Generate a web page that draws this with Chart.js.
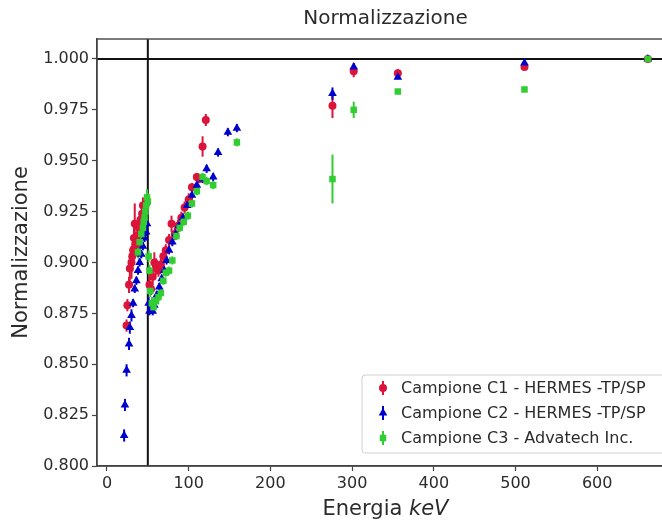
<!DOCTYPE html>
<html>
<head>
<meta charset="utf-8">
<script src="https://cdn.jsdelivr.net/npm/chart.js@4.4.1/dist/chart.umd.min.js"></script>
<style>
  html, body { margin: 0; padding: 0; background: #fff; overflow: hidden; }
  #wrap { width: 662px; height: 524px; overflow: hidden; }
</style>
</head>
<body>
<div id="wrap"><canvas id="chart" width="700" height="524"></canvas></div>
<script>
// Campione C1 - HERMES (red circles)
const c1Energy = [24, 25, 27, 28, 30, 31, 32, 33, 34, 36, 37, 39, 41, 43, 44, 46, 48,
  52, 54, 56, 58, 60, 63, 66, 69, 72, 76, 79, 83, 87, 91, 95, 100, 104, 110, 113, 117, 121,
  276, 302, 356, 511, 662];
const c1Norm = [0.869, 0.879, 0.889, 0.897, 0.900, 0.903, 0.906, 0.912, 0.919, 0.909, 0.913, 0.917, 0.921, 0.924, 0.928, 0.925, 0.929,
  0.889, 0.887, 0.893, 0.900, 0.898, 0.896, 0.899, 0.903, 0.906, 0.911, 0.919, 0.914, 0.918, 0.922, 0.927, 0.931, 0.937, 0.942, 0.941, 0.957, 0.970,
  0.977, 0.994, 0.993, 0.996, 1.000];
const c1Err = [0.003, 0.003, 0.004, 0.006, 0.008, 0.007, 0.006, 0.008, 0.010, 0.006, 0.005, 0.005, 0.004, 0.005, 0.004, 0.004, 0.004,
  0.004, 0.003, 0.004, 0.005, 0.004, 0.003, 0.003, 0.003, 0.003, 0.003, 0.004, 0.003, 0.003, 0.003, 0.003, 0.003, 0.002, 0.002, 0.002, 0.005, 0.003,
  0.006, 0.003, 0.002, 0.001, 0.001];

// Campione C2 - HERMES (blue triangles)
const c2Energy = [21, 22, 24, 27, 28, 30, 32, 34, 36, 38, 40, 42, 44, 46, 48, 49,
  51, 52, 54, 56, 58, 61, 64, 67, 70, 73, 76, 80, 84, 88, 93, 98, 104, 110, 117, 122, 130, 136, 148, 159,
  276, 302, 356, 511, 662];
const c2Norm = [0.815, 0.830, 0.847, 0.860, 0.868, 0.874, 0.880, 0.887, 0.891, 0.896, 0.900, 0.904, 0.908, 0.912, 0.915, 0.919,
  0.880, 0.876, 0.877, 0.876, 0.879, 0.884, 0.888, 0.892, 0.896, 0.901, 0.906, 0.910, 0.914, 0.918, 0.922, 0.928, 0.933, 0.938, 0.941, 0.946, 0.942, 0.954, 0.964, 0.966,
  0.983, 0.996, 0.991, 0.998, 1.000];
const c2Err = [0.003, 0.003, 0.003, 0.003, 0.003, 0.003, 0.002, 0.002, 0.002, 0.002, 0.002, 0.002, 0.002, 0.002, 0.002, 0.002,
  0.003, 0.002, 0.002, 0.002, 0.002, 0.002, 0.002, 0.002, 0.002, 0.002, 0.002, 0.002, 0.002, 0.002, 0.002, 0.002, 0.002, 0.002, 0.002, 0.002, 0.002, 0.002, 0.002, 0.002,
  0.003, 0.002, 0.001, 0.001, 0.001];

// Campione C3 - Advatech (green squares)
const c3Energy = [38, 40, 42, 44, 45, 46, 47, 48, 49, 50,
  51, 52, 53, 55, 57, 60, 63, 66, 69, 72, 76, 80, 85, 89, 94, 99, 104, 110, 117, 122, 130, 159,
  276, 302, 356, 511, 662];
const c3Norm = [0.905, 0.910, 0.914, 0.917, 0.920, 0.922, 0.925, 0.928, 0.932, 0.930,
  0.903, 0.896, 0.886, 0.880, 0.878, 0.881, 0.883, 0.885, 0.891, 0.895, 0.896, 0.901, 0.913, 0.917, 0.920, 0.923, 0.929, 0.935, 0.942, 0.940, 0.938, 0.959,
  0.941, 0.975, 0.984, 0.985, 1.000];
const c3Err = [0.003, 0.003, 0.003, 0.003, 0.004, 0.004, 0.004, 0.004, 0.004, 0.004,
  0.003, 0.003, 0.003, 0.003, 0.003, 0.002, 0.002, 0.002, 0.002, 0.002, 0.002, 0.002, 0.002, 0.002, 0.002, 0.002, 0.002, 0.002, 0.002, 0.002, 0.002, 0.002,
  0.012, 0.004, 0.001, 0.001, 0.001];

const seriesNames = ['Campione C1 - HERMES -TP/SP', 'Campione C2 - HERMES -TP/SP', 'Campione C3 - Advatech Inc.'];
const xTicks = [0, 100, 200, 300, 400, 500, 600];
const yTicks = [0.800, 0.825, 0.850, 0.875, 0.900, 0.925, 0.950, 0.975, 1.000];
const edgeEnergy = 50;   // vertical reference line
const refLevel = 1.0;    // horizontal reference line

const FONT = "'DejaVu Sans', sans-serif";
const TXT = '#2b2b2b';
const colors = ['#dc143c', '#0000cd', '#32cd32'];
const styles = ['circle', 'triangle', 'rect'];
const radii = [4, 5, 4.6];

function toPoints(xs, ys) {
  return xs.map((x, i) => ({ x: x, y: ys[i] }));
}

const series = [
  { xs: c1Energy, ys: c1Norm, err: c1Err },
  { xs: c2Energy, ys: c2Norm, err: c2Err },
  { xs: c3Energy, ys: c3Norm, err: c3Err }
];

const datasets = series.map((s, i) => ({
  label: seriesNames[i],
  data: toPoints(s.xs, s.ys),
  pointStyle: styles[i],
  pointRadius: radii[i],
  backgroundColor: colors[i],
  borderColor: colors[i],
  borderWidth: 0,
  showLine: false,
  order: 2 - i
}));

// error bars + reference lines, drawn under the markers
const errorBars = {
  id: 'errorBars',
  beforeDatasetsDraw(chart) {
    const { ctx, chartArea, scales: { x, y } } = chart;
    ctx.save();
    ctx.beginPath();
    ctx.rect(chartArea.left, chartArea.top, chartArea.right - chartArea.left, chartArea.bottom - chartArea.top);
    ctx.clip();
    ctx.strokeStyle = '#111';
    ctx.lineWidth = 2;
    const vx = x.getPixelForValue(edgeEnergy);
    ctx.beginPath();
    ctx.moveTo(vx, chartArea.top);
    ctx.lineTo(vx, chartArea.bottom);
    ctx.stroke();
    const hy = y.getPixelForValue(refLevel);
    ctx.beginPath();
    ctx.moveTo(chartArea.left, hy);
    ctx.lineTo(chartArea.right, hy);
    ctx.stroke();

    ctx.lineWidth = 2;
    series.forEach((s, i) => {
      ctx.strokeStyle = colors[i];
      s.xs.forEach((xv, j) => {
        const px = x.getPixelForValue(xv);
        ctx.beginPath();
        ctx.moveTo(px, y.getPixelForValue(s.ys[j] - s.err[j]));
        ctx.lineTo(px, y.getPixelForValue(s.ys[j] + s.err[j]));
        ctx.stroke();
      });
    });
    ctx.restore();
  }
};

// frame, title, x label with italic unit, legend
const decorations = {
  id: 'decorations',
  afterDraw(chart) {
    const { ctx, chartArea } = chart;
    const cx = (chartArea.left + chartArea.right) / 2;
    ctx.save();
    ctx.strokeStyle = '#444';
    ctx.lineWidth = 1.4;
    ctx.strokeRect(chartArea.left, chartArea.top, chartArea.right - chartArea.left, chartArea.bottom - chartArea.top);

    ctx.fillStyle = TXT;
    ctx.textBaseline = 'middle';
    ctx.textAlign = 'center';
    ctx.font = '20px ' + FONT;
    ctx.fillText('Normalizzazione', cx, 19);

    const f1 = '21px ' + FONT, f2 = 'italic 21px ' + FONT;
    ctx.font = f1;
    const w1 = ctx.measureText('Energia ').width;
    ctx.font = f2;
    const w2 = ctx.measureText('keV').width;
    const x0 = cx - (w1 + w2) / 2;
    ctx.textAlign = 'left';
    ctx.font = f1;
    ctx.fillText('Energia ', x0, 510);
    ctx.font = f2;
    ctx.fillText('keV', x0 + w1, 510);

    // legend box
    const lx = 362, ly = 375, lw = 330, lh = 78;
    ctx.fillStyle = 'rgba(255,255,255,0.85)';
    ctx.strokeStyle = '#d0d0d0';
    ctx.lineWidth = 1;
    ctx.beginPath();
    ctx.roundRect(lx, ly, lw, lh, 3);
    ctx.fill();
    ctx.stroke();
    ctx.font = '16px ' + FONT;
    seriesNames.forEach((name, i) => {
      const ry = ly + 13 + i * 25;
      const mx = lx + 21;
      ctx.strokeStyle = colors[i];
      ctx.lineWidth = 2;
      ctx.beginPath();
      ctx.moveTo(mx, ry - 7);
      ctx.lineTo(mx, ry + 7);
      ctx.stroke();
      ctx.fillStyle = colors[i];
      ctx.beginPath();
      Chart.helpers.drawPoint(ctx, { pointStyle: styles[i], radius: radii[i], borderWidth: 0 }, mx, ry);
      ctx.fillStyle = TXT;
      ctx.fillText(name, lx + 39, ry + 1);
    });
    ctx.restore();
  }
};

new Chart(document.getElementById('chart'), {
  type: 'scatter',
  data: { datasets: datasets },
  options: {
    responsive: false,
    animation: false,
    layout: { padding: { left: 0, right: 26, top: 39, bottom: 0 } },
    plugins: {
      legend: { display: false },
      tooltip: { enabled: false },
      title: { display: false }
    },
    scales: {
      x: {
        type: 'linear',
        min: -12.2,
        max: 694,
        afterBuildTicks: s => { s.ticks = xTicks.map(v => ({ value: v })); },
        afterFit: s => { s.height = 58; },
        grid: { drawOnChartArea: false, tickLength: 5, color: '#444', tickWidth: 1.2 },
        border: { color: '#444', width: 1.4 },
        ticks: { color: TXT, font: { family: FONT, size: 16 }, padding: 3, maxRotation: 0 }
      },
      y: {
        type: 'linear',
        min: 0.8,
        max: 1.0098,
        afterBuildTicks: s => { s.ticks = yTicks.map(v => ({ value: v })); },
        afterFit: s => { s.width = 97; },
        grid: { drawOnChartArea: false, tickLength: 5, color: '#444', tickWidth: 1.2 },
        border: { color: '#444', width: 1.4 },
        ticks: { color: TXT, font: { family: FONT, size: 16 }, padding: 3, callback: v => Number(v).toFixed(3) },
        title: { display: true, text: 'Normalizzazione', color: TXT, font: { family: FONT, size: 21 }, padding: { top: 9, bottom: 0 } }
      }
    }
  },
  plugins: [errorBars, decorations]
});
</script>
</body>
</html>
